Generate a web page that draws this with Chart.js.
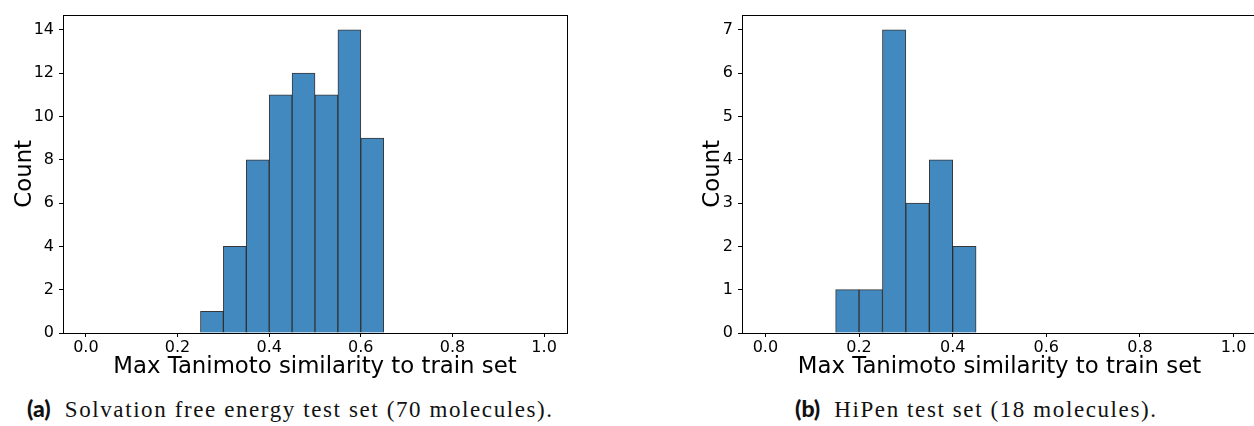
<!DOCTYPE html>
<html>
<head>
<meta charset="utf-8">
<script src="https://cdn.jsdelivr.net/npm/chart.js@4/dist/chart.umd.min.js"></script>
<style>
  html, body { margin: 0; padding: 0; background: #fff; overflow: hidden; }
  body { width: 1254px; height: 426px; position: relative; }
  .box { position: absolute; top: 0; }
  .cap { position: absolute; top: 394px; font-family: "Liberation Serif", serif; font-size: 23px; letter-spacing: 1.6px; color: #111; white-space: nowrap; }
  .cap b { font-family: Lato, sans-serif; font-weight: 900; font-size: 23px; letter-spacing: 0; margin-right: 14px; }
</style>
</head>
<body>
<div class="box" style="left:0;width:600px;height:390px"><canvas id="solv"></canvas></div>
<div class="box" style="left:680px;width:580px;height:390px"><canvas id="hipen"></canvas></div>
<div class="cap" style="left:27px"><b>(a)</b>Solvation free energy test set (70 molecules).</div>
<div class="cap" style="left:795px"><b>(b)</b>HiPen test set (18 molecules).</div>
<script>
const binWidth = 0.05;
const solvBinStarts = [0.25, 0.30, 0.35, 0.40, 0.45, 0.50, 0.55, 0.60];
const solvCounts = [1, 4, 8, 11, 12, 11, 14, 9];
const hipenBinStarts = [0.15, 0.20, 0.25, 0.30, 0.35, 0.40];
const hipenCounts = [1, 1, 7, 3, 4, 2];
const xTicks = [0.0, 0.2, 0.4, 0.6, 0.8, 1.0];
const xLabel = "Max Tanimoto similarity to train set";
const yLabel = "Count";

const frame = {
  id: "frame",
  afterDraw(chart) {
    const a = chart.chartArea, ctx = chart.ctx;
    ctx.save();
    ctx.strokeStyle = "#000";
    ctx.lineWidth = 1;
    ctx.strokeRect(Math.round(a.left) + 0.5, Math.round(a.top) + 0.5,
      Math.round(a.right - a.left), Math.round(a.bottom - a.top));
    ctx.restore();
  }
};

function makeHist(id, starts, counts, yMax, yStep, yAxisW, padRight, titlePad) {
  const pts = starts.map((s, i) => ({ x: s + binWidth / 2, y: counts[i] }));
  new Chart(document.getElementById(id), {
    type: "bar",
    data: {
      datasets: [{
        data: pts,
        backgroundColor: "#4289c0",
        borderColor: "rgba(20,20,20,0.85)",
        borderWidth: 1,
        barPercentage: 1,
        categoryPercentage: 1
      }]
    },
    options: {
      responsive: true,
      maintainAspectRatio: false,
      animation: false,
      layout: { padding: { top: 14, right: padRight, left: 0, bottom: 0 } },
      plugins: { legend: { display: false }, tooltip: { enabled: false } },
      scales: {
        x: {
          type: "linear",
          offset: false,
          min: -0.05,
          max: 1.05,
          afterBuildTicks: s => { s.ticks = xTicks.map(v => ({ value: v })); },
          afterFit: s => { s.height = 57; },
          ticks: {
            callback: v => v.toFixed(1),
            font: { family: "DejaVu Sans", size: 16 },
            color: "#000",
            padding: 1,
            maxRotation: 0
          },
          grid: { drawOnChartArea: false, offset: false, tickLength: 4, color: "#000" },
          border: { display: false },
          title: {
            display: true,
            text: xLabel,
            font: { family: "DejaVu Sans", size: 22.8 },
            color: "#000",
            padding: { top: 0, bottom: 9 }
          }
        },
        y: {
          min: 0,
          max: yMax,
          afterFit: s => { s.width = yAxisW; },
          ticks: {
            stepSize: yStep,
            includeBounds: false,
            font: { family: "DejaVu Sans", size: 16 },
            color: "#000",
            padding: 5
          },
          grid: { drawOnChartArea: false, tickLength: 4, color: "#000" },
          border: { display: false },
          title: {
            display: true,
            text: yLabel,
            font: { family: "DejaVu Sans", size: 22.8 },
            color: "#000",
            padding: { top: titlePad, bottom: 0 }
          }
        }
      }
    },
    plugins: [frame]
  });
}

makeHist("solv", solvBinStarts, solvCounts, 14.7, 2, 63, 33, 11);
makeHist("hipen", hipenBinStarts, hipenCounts, 7.35, 1, 62, 3, 19);
</script>
</body>
</html>
